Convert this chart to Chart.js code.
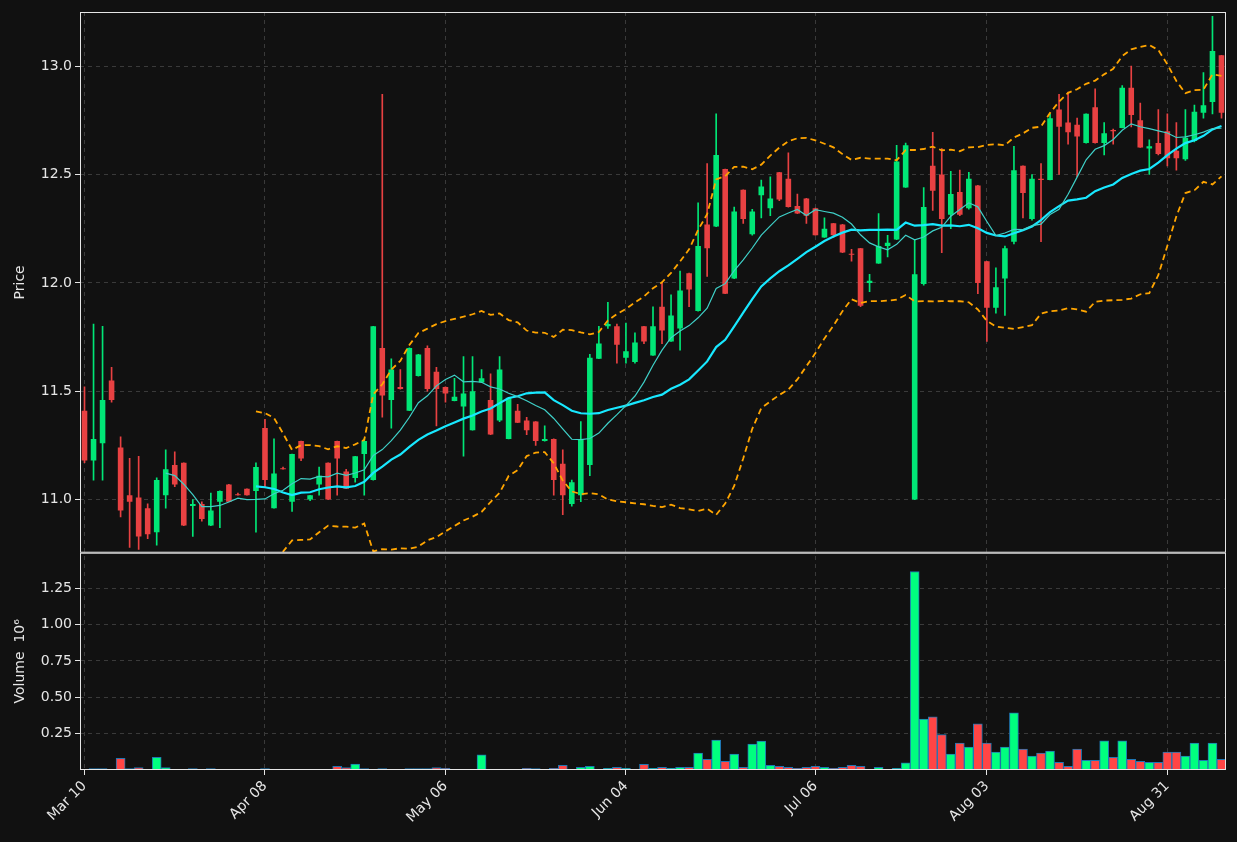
<!DOCTYPE html>
<html>
<head>
<meta charset="utf-8">
<script src="https://cdn.jsdelivr.net/npm/chart.js@4.4.1/dist/chart.umd.min.js"></script>
<style>
  html, body { margin: 0; padding: 0; background: #111111; }
  #wrap { width: 1237px; height: 842px; }
</style>
</head>
<body>
<div id="wrap"><canvas id="chart" width="1237" height="842"></canvas></div>
<script>
// OHLC, one row per trading day
const opens = [11.41,11.18,11.26,11.55,11.24,11.02,11.01,10.96,10.85,11.02,11.16,11.17,10.97,10.98,10.88,10.99,11.07,11.025,11.05,11.04,
  11.33,10.96,11.145,10.99,11.27,11.0,11.07,11.17,11.27,11.13,11.10,11.21,11.09,11.70,11.46,11.52,11.41,11.57,11.70,11.59,
  11.52,11.455,11.43,11.32,11.54,11.46,11.365,11.28,11.41,11.365,11.36,11.27,11.28,11.165,10.98,11.02,11.16,11.65,11.80,11.80,
  11.655,11.635,11.80,11.665,11.89,11.73,11.79,12.045,11.87,12.27,12.26,12.525,12.02,12.43,12.225,12.405,12.345,12.51,12.48,12.355,
  12.39,12.345,12.21,12.275,12.27,12.135,12.16,12.0,12.09,12.17,12.20,12.44,11.0,11.995,12.54,12.50,12.315,12.42,12.345,12.45,
  12.10,11.885,12.02,12.19,12.54,12.295,12.48,12.475,12.80,12.74,12.73,12.645,12.81,12.645,12.705,12.715,12.90,12.75,12.62,12.645,
  12.70,12.61,12.57,12.655,12.785,12.835,13.05];
const highs = [11.52,11.81,11.80,11.61,11.29,11.19,11.20,10.98,11.10,11.23,11.22,11.17,11.00,10.99,11.03,11.04,11.07,11.03,11.05,11.17,
  11.37,11.28,11.15,11.21,11.27,11.02,11.15,11.17,11.27,11.14,11.20,11.28,11.80,12.87,11.65,11.60,11.70,11.67,11.71,11.61,
  11.52,11.56,11.66,11.66,11.60,11.58,11.66,11.47,11.44,11.38,11.36,11.34,11.28,11.23,11.09,11.36,11.67,11.80,11.91,11.81,
  11.815,11.77,11.80,11.89,12.0,11.945,12.055,12.045,12.37,12.55,12.78,12.525,12.35,12.43,12.34,12.475,12.49,12.51,12.60,12.41,
  12.39,12.345,12.30,12.275,12.27,12.155,12.16,12.04,12.32,12.22,12.635,12.645,12.20,12.44,12.695,12.62,12.515,12.52,12.51,12.45,
  12.10,12.07,12.17,12.63,12.54,12.50,12.55,12.78,12.87,12.88,12.76,12.78,12.895,12.74,12.71,12.91,13.0,12.83,12.66,12.80,
  12.78,12.74,12.80,12.82,12.97,13.23,13.05];
const lows = [11.17,11.09,11.09,11.45,10.92,10.78,10.77,10.82,10.79,10.96,11.06,10.88,10.83,10.90,10.88,10.87,10.99,11.02,11.02,10.85,
  11.06,10.96,11.14,10.945,11.18,10.995,11.02,11.0,11.02,11.05,11.08,11.02,11.09,11.38,11.33,11.51,11.41,11.57,11.50,11.34,
  11.45,11.455,11.20,11.32,11.54,11.30,11.36,11.28,11.355,11.30,11.25,11.27,11.02,10.93,10.97,10.99,11.11,11.65,11.79,11.63,
  11.63,11.63,11.72,11.665,11.72,11.73,11.69,11.89,11.87,12.03,12.26,11.95,12.02,12.275,12.22,12.30,12.31,12.38,12.35,12.32,
  12.275,12.22,12.21,12.21,12.14,12.10,11.89,11.96,12.09,12.12,12.20,12.44,11.0,11.99,12.335,12.14,12.25,12.31,12.34,11.95,
  11.73,11.86,11.85,12.18,12.30,12.29,12.19,12.475,12.50,12.64,12.49,12.645,12.645,12.59,12.64,12.715,12.72,12.625,12.50,12.59,
  12.54,12.52,12.565,12.65,12.76,12.78,12.76];
const closes = [11.18,11.28,11.46,11.46,10.95,10.99,10.83,10.84,11.09,11.14,11.07,10.88,10.98,10.91,10.95,11.04,10.99,11.02,11.02,11.15,
  11.09,11.12,11.14,11.21,11.19,11.02,11.11,11.0,11.19,11.05,11.20,11.27,11.80,11.48,11.60,11.51,11.70,11.67,11.51,11.51,
  11.49,11.475,11.49,11.50,11.56,11.30,11.60,11.47,11.355,11.32,11.27,11.28,11.09,11.02,11.08,11.28,11.655,11.72,11.81,11.715,
  11.685,11.725,11.73,11.80,11.78,11.85,11.965,11.97,12.17,12.16,12.59,11.95,12.33,12.295,12.33,12.445,12.39,12.385,12.35,12.32,
  12.31,12.22,12.25,12.22,12.14,12.13,11.895,12.01,12.17,12.185,12.56,12.635,12.04,12.35,12.425,12.295,12.41,12.315,12.48,12.0,
  11.885,11.98,12.16,12.52,12.415,12.48,12.475,12.76,12.72,12.695,12.675,12.78,12.645,12.69,12.70,12.90,12.775,12.625,12.63,12.595,
  12.575,12.575,12.67,12.79,12.82,13.07,12.785];
// volume in millions
const volumes = [0.003,0.01,0.01,0.003,0.08,0.01,0.016,0.003,0.087,0.016,0.005,0.002,0.01,0.002,0.01,0.005,0.002,0.002,0.002,0.004,
  0.01,0.002,0.002,0.002,0.002,0.002,0.002,0.002,0.025,0.016,0.04,0.01,0.003,0.01,0.003,0.003,0.01,0.01,0.01,0.016,
  0.012,0.004,0.003,0.003,0.104,0.003,0.003,0.003,0.003,0.012,0.01,0.005,0.012,0.032,0.004,0.019,0.025,0.004,0.012,0.019,
  0.012,0.004,0.039,0.012,0.019,0.012,0.019,0.019,0.116,0.074,0.206,0.06,0.109,0.019,0.178,0.199,0.032,0.025,0.019,0.012,
  0.019,0.025,0.019,0.012,0.019,0.032,0.025,0.005,0.019,0.005,0.012,0.049,1.366,0.35,0.366,0.243,0.109,0.185,0.157,0.317,
  0.185,0.123,0.157,0.394,0.144,0.095,0.116,0.13,0.053,0.025,0.144,0.067,0.067,0.2,0.088,0.2,0.074,0.06,0.053,0.053,
  0.123,0.123,0.095,0.185,0.067,0.185,0.074];
// x tick labels at trading-day index
const tickLabels = { 0: "Mar 10", 20: "Apr 08", 40: "May 06", 60: "Jun 04", 81: "Jul 06", 100: "Aug 03", 120: "Aug 31" };

const n = closes.length;
const idx = closes.map((_, i) => String(i));

// moving averages and bollinger bands from the closes
function sma(period) {
  return closes.map((_, i) => {
    if (i < period - 1) return null;
    let s = 0;
    for (let k = i - period + 1; k <= i; k++) s += closes[k];
    return s / period;
  });
}
const ma10 = sma(10);
const ma20 = sma(20);
const bbUp = [], bbLo = [];
for (let i = 0; i < n; i++) {
  if (ma20[i] === null) { bbUp.push(null); bbLo.push(null); continue; }
  let v = 0;
  for (let k = i - 19; k <= i; k++) v += (closes[k] - ma20[i]) ** 2;
  const sd = Math.sqrt(v / 20);
  bbUp.push(ma20[i] + 2 * sd);
  bbLo.push(ma20[i] - 2 * sd);
}

const up = closes.map((c, i) => c >= opens[i]);
const candleGreen = "#00e676", candleRed = "#e84142";
const volGreen = "#00ff7f", volRed = "#ff4545";

// clip price lines to their panel, draw panel frames
const panelPlugin = {
  id: "panels",
  beforeDatasetDraw(chart, args) {
    const ds = chart.data.datasets[args.index];
    const sc = chart.scales[ds.yAxisID || "y"];
    const a = chart.chartArea;
    chart.ctx.save();
    chart.ctx.beginPath();
    chart.ctx.rect(a.left, sc.top, a.right - a.left, sc.bottom - sc.top);
    chart.ctx.clip();
  },
  afterDatasetDraw(chart) {
    chart.ctx.restore();
  },
  afterDraw(chart) {
    const ctx = chart.ctx, a = chart.chartArea;
    ctx.save();
    ctx.strokeStyle = "#e6e6e6";
    ctx.lineWidth = 1;
    ["y", "yv"].forEach(id => {
      const s = chart.scales[id];
      ctx.strokeRect(a.left + 0.5, s.top + 0.5, a.right - a.left - 1, s.bottom - s.top - 1);
    });
    ctx.restore();
  }
};
const bgPlugin = {
  id: "bg",
  beforeDraw(chart) {
    const ctx = chart.ctx;
    ctx.save();
    ctx.fillStyle = "#111111";
    ctx.fillRect(0, 0, chart.width, chart.height);
    ctx.restore();
  }
};

const gridStyle = { color: "#3a3a3a", lineWidth: 1, tickColor: "#e6e6e6", tickLength: 5 };
const tickFont = { family: "DejaVu Sans", size: 14 };
const onStep = (v, step) => Math.abs(v / step - Math.round(v / step)) < 1e-6;

new Chart("chart", {
  data: {
    labels: idx,
    datasets: [
      { type: "line", label: "ma10", data: ma10, yAxisID: "y", borderColor: "#3fd0c8", borderWidth: 1.2, pointRadius: 0, order: 0 },
      { type: "line", label: "ma20", data: ma20, yAxisID: "y", borderColor: "#18e8ff", borderWidth: 2.2, pointRadius: 0, order: 0 },
      { type: "line", label: "bbUp", data: bbUp, yAxisID: "y", borderColor: "#ffa500", borderWidth: 1.8, borderDash: [6, 4], pointRadius: 0, order: 0 },
      { type: "line", label: "bbLo", data: bbLo, yAxisID: "y", borderColor: "#ffa500", borderWidth: 1.8, borderDash: [6, 4], pointRadius: 0, order: 0 },
      { type: "bar", label: "body", data: opens.map((o, i) => [Math.min(o, closes[i]), Math.max(o, closes[i])]), yAxisID: "y",
        backgroundColor: up.map(u => u ? candleGreen : candleRed), barPercentage: 0.62, categoryPercentage: 1, grouped: false, minBarLength: 1, order: 1 },
      { type: "bar", label: "wick", data: lows.map((l, i) => [l, highs[i]]), yAxisID: "y",
        backgroundColor: up.map(u => u ? candleGreen : candleRed), barThickness: 1, grouped: false, order: 2 },
      { type: "bar", label: "volume", data: volumes, yAxisID: "yv",
        backgroundColor: up.map(u => u ? volGreen : volRed), borderColor: "#1f77b4", borderWidth: 1,
        barPercentage: 1, categoryPercentage: 1, grouped: false, order: 3 }
    ]
  },
  options: {
    responsive: false,
    animation: false,
    layout: { padding: { top: 12, right: 11, left: 0, bottom: 0 } },
    plugins: { legend: { display: false }, tooltip: { enabled: false } },
    scales: {
      x: {
        type: "category",
        offset: true,
        border: { display: false, dash: [4, 4] },
        grid: { ...gridStyle, offset: false },
        ticks: {
          autoSkip: false, maxRotation: 45, minRotation: 45, color: "#e6e6e6", font: tickFont,
          callback: (v, i) => tickLabels[i] !== undefined ? tickLabels[i] : null
        },
        afterFit: s => { s.height = 72; }
      },
      yv: {
        stack: "panels", stackWeight: 217, position: "left",
        min: 0, max: 1.495,
        border: { display: false, dash: [4, 4] },
        grid: { ...gridStyle },
        ticks: { stepSize: 0.25, color: "#e6e6e6", font: tickFont,
          callback: v => (v === 0 || !onStep(v, 0.25) || v > 1.3) ? null : Number(v).toFixed(2) },
        title: { display: true, text: "Volume  10\u2076", color: "#e6e6e6", font: tickFont, padding: { top: 12, bottom: 0 } },
        afterFit: s => { s.width = 80; }
      },
      y: {
        stack: "panels", stackWeight: 540, position: "left",
        min: 10.755, max: 13.25,
        border: { display: false, dash: [4, 4] },
        grid: { ...gridStyle },
        ticks: { stepSize: 0.5, color: "#e6e6e6", font: tickFont,
          callback: v => onStep(v, 0.5) ? Number(v).toFixed(1) : null },
        title: { display: true, text: "Price", color: "#e6e6e6", font: tickFont, padding: { top: 12, bottom: 0 } },
        afterFit: s => { s.width = 80; }
      }
    }
  },
  plugins: [bgPlugin, panelPlugin]
});
</script>
</body>
</html>
